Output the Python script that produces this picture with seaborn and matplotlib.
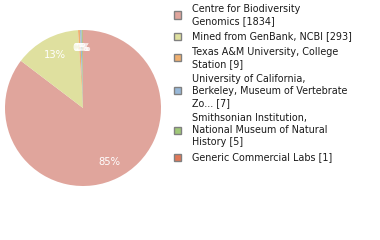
import matplotlib
matplotlib.use("Agg")
import matplotlib.pyplot as plt
import matplotlib.patches as mpatches
import seaborn as sns

labels = [
    "Centre for Biodiversity\nGenomics [1834]",
    "Mined from GenBank, NCBI [293]",
    "Texas A&M University, College\nStation [9]",
    "University of California,\nBerkeley, Museum of Vertebrate\nZo... [7]",
    "Smithsonian Institution,\nNational Museum of Natural\nHistory [5]",
    "Generic Commercial Labs [1]",
]
values = [1834, 293, 9, 7, 5, 1]
colors = ["#e0a59c", "#dfe09f", "#f0b070", "#98b8d8", "#a0c878", "#e07858"]

sns.set_theme(style="white")
plt.rcParams["font.family"] = ["DejaVu Sans"]

W, H = 380, 240
fig = plt.figure(figsize=(W / 100, H / 100), dpi=100)
cx, cy, r = 83, 108, 78
ax = fig.add_axes([(cx - r) / W, (H - cy - r) / H, 2 * r / W, 2 * r / H])
wedges, texts, autotexts = ax.pie(
    values, colors=colors, startangle=90, counterclock=False,
    autopct=lambda p: "%d%%" % int(p), pctdistance=0.77, radius=1.0,
    wedgeprops=dict(linewidth=0),
    textprops=dict(color="white", fontsize=7.2),
)
ax.set_xlim(-1, 1)
ax.set_ylim(-1, 1)
ax.set_aspect("equal")
ax.axis("off")

# Legend laid out in pixel coordinates (top-left origin)
line_h, gap = 12.0, 15.3
y = 9.0
box = 7.0
for lab, col in zip(labels, colors):
    lines = lab.split("\n")
    centre = y + (len(lines) - 1) * line_h / 2
    fig.patches.append(mpatches.Rectangle(
        (174 / W, (H - centre - box / 2) / H), box / W, box / H,
        transform=fig.transFigure, facecolor=col, edgecolor="#808080",
        linewidth=1.0))
    for i, ln in enumerate(lines):
        fig.text(192 / W, (H - (y + i * line_h)) / H, ln, fontsize=6.95,
                 color="#1a1a1a", ha="left", va="center")
    y += (len(lines) - 1) * line_h + gap

fig.savefig("out.png", dpi=100)
